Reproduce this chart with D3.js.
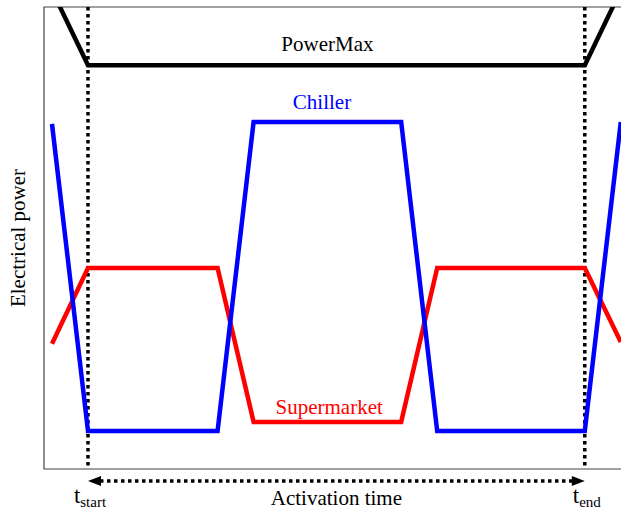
<!DOCTYPE html>
<html><head><meta charset="utf-8">
<script src="https://cdn.jsdelivr.net/npm/d3@7"></script>
</head><body style="margin:0">
<script>
// time (ramp units) and electrical power (percent of axis height)
const powerMaxT = [-1, 0, 13.8, 14.8];
const powerMaxP = [103.6, 87.4, 87.4, 103.6];
const chillerT = [-1, 0, 3.6, 4.6, 8.7, 9.7, 13.8, 14.8];
const chillerP = [74.7, 8.2, 8.2, 75.1, 75.1, 8.2, 8.2, 75.1];
const supermarketT = [-1, 0, 3.6, 4.6, 8.7, 9.7, 13.8, 14.8];
const supermarketP = [27.1, 43.5, 43.5, 10.2, 10.2, 43.5, 43.5, 27.5];
const markers = [{t: 0, label: "t", sub: "start"}, {t: 13.8, label: "t", sub: "end"}];
const seriesLabels = [
  {name: "PowerMax", t: 6.65, p: 90.4, color: "#000"},
  {name: "Chiller", t: 6.5, p: 78.0, color: "#0000ff"},
  {name: "Supermarket", t: 6.7, p: 11.8, color: "#ff0000"}
];

(function () {
const W = 621, H = 513;
const pL = 44, pT = 7, pR = 621, pB = 469;
const FONT = "Liberation Serif";
const x = d3.scaleLinear().domain([-1.222, 14.806]).range([pL, pR]);
const y = d3.scaleLinear().domain([0, 100]).range([pB, pT]);

const svg = d3.select("body").append("svg").attr("width", W).attr("height", H).style("display", "block");

const label = (sel) => sel.attr("font-family", FONT).style("font-family", FONT);

seriesLabels.forEach(s => {
  svg.append("text").call(label).attr("x", x(s.t)).attr("y", y(s.p)).attr("text-anchor", "middle")
    .attr("font-size", 21).attr("fill", s.color).text(s.name);
});

svg.append("text").call(label).attr("transform", `translate(25,${(pT + pB) / 2}) rotate(-90)`)
  .attr("text-anchor", "middle").attr("font-size", 21).text("Electrical power");

const ay = 481;
const x0 = x(markers[0].t), x1 = x(markers[1].t);
svg.append("text").call(label).attr("x", (x0 + x1) / 2).attr("y", 505).attr("text-anchor", "middle")
  .attr("font-size", 21).text("Activation time");

markers.forEach(m => {
  const t = svg.append("text").call(label).attr("x", x(m.t) + 2).attr("y", 503).attr("text-anchor", "middle")
    .attr("font-size", 23);
  t.append("tspan").call(label).text(m.label);
  t.append("tspan").call(label).attr("font-size", 15).attr("dy", 4).text(m.sub);
});

svg.append("clipPath").attr("id", "clip")
  .append("rect").attr("x", pL).attr("y", pT).attr("width", pR - pL).attr("height", pB - pT);

// frame
svg.append("path").attr("d", `M${pR},${pT}H${pL}V${pB}H${pR}`)
  .attr("fill", "none").attr("stroke", "#444").attr("stroke-width", 1.2);

const line = d3.line().x(d => x(d[0])).y(d => y(d[1]));
const g = svg.append("g").attr("clip-path", "url(#clip)");

markers.forEach(m => {
  g.append("line").attr("x1", x(m.t)).attr("x2", x(m.t)).attr("y1", pT).attr("y2", pB)
    .attr("stroke", "#000").attr("stroke-width", 3.5).attr("stroke-dasharray", "3.5 3.5");
});

function series(T, P, color) {
  g.append("path").datum(T.map((t, i) => [t, P[i]])).attr("d", line)
    .attr("fill", "none").attr("stroke", color).attr("stroke-width", 4.5)
    .attr("stroke-linejoin", "miter");
}
series(powerMaxT, powerMaxP, "#000");
series(supermarketT, supermarketP, "#ff0000");
series(chillerT, chillerP, "#0000ff");

svg.append("line").attr("x1", x0 + 12).attr("x2", x1 - 12).attr("y1", ay).attr("y2", ay)
  .attr("stroke", "#000").attr("stroke-width", 3.5).attr("stroke-dasharray", "3.5 3.5");
svg.append("path").attr("d", `M${x0},${ay}L${x0 + 13},${ay - 5}L${x0 + 13},${ay + 5}Z`).attr("fill", "#000");
svg.append("path").attr("d", `M${x1},${ay}L${x1 - 13},${ay - 5}L${x1 - 13},${ay + 5}Z`).attr("fill", "#000");
})();
</script>
</body></html>
